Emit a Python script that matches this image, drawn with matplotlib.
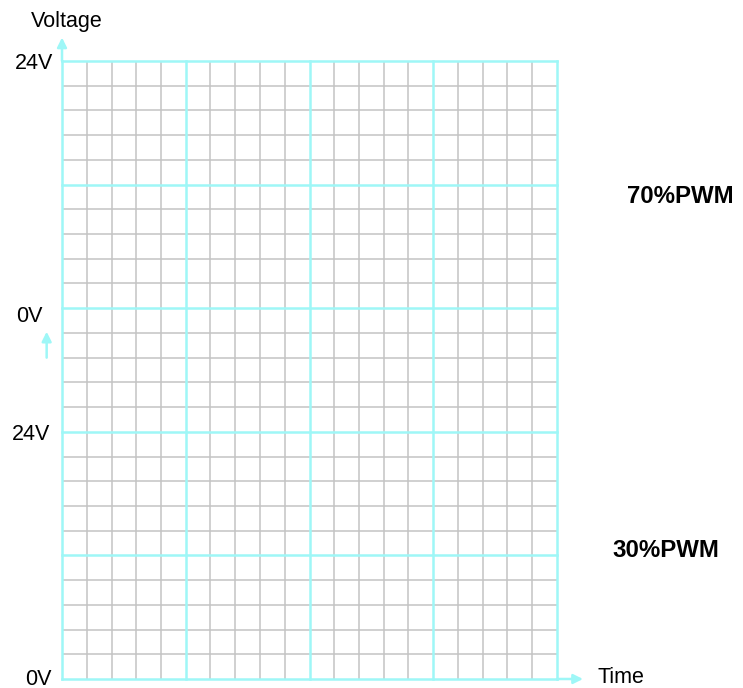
import numpy as np
import matplotlib.pyplot as plt

plt.rcParams['font.family'] = ['Liberation Sans', 'DejaVu Sans']

# grid: 20 columns, 25 rows, major line every 5 cells
n_cols = 20
n_rows = 25
major_step = 5

y_labels = ['24V', '0V', '24V', '0V']
y_label_x = [-0.36, -0.77, -0.48, -0.4]
y_label_base = [24.68, 14.44, 9.67, -0.24]
pwm_labels = ['70%PWM', '30%PWM']
pwm_x = [25.0, 24.4]
pwm_base = [19.26, 4.94]

cyan = '#9ef7f7'
gray = '#c3c3c3'

fig = plt.figure(figsize=(7.43, 6.88), dpi=100)
ax = fig.add_axes([62 / 743, 9 / 688, 495 / 743, 618 / 688])
ax.set_xlim(0, n_cols)
ax.set_ylim(0, n_rows)
ax.axis('off')

# minor grid
for x in range(n_cols + 1):
    if x % major_step:
        ax.plot([x, x], [0, n_rows], color=gray, lw=1.1, zorder=1)
for y in range(n_rows + 1):
    if y % major_step:
        ax.plot([0, n_cols], [y, y], color=gray, lw=1.1, zorder=1)
# major grid
for x in range(0, n_cols + 1, major_step):
    ax.plot([x, x], [0, n_rows], color=cyan, lw=1.8, zorder=2, clip_on=False)
for y in range(0, n_rows + 1, major_step):
    ax.plot([0, n_cols], [y, y], color=cyan, lw=1.8, zorder=2, clip_on=False)

# arrows
arrow = dict(arrowstyle='-|>', color=cyan, lw=1.8, mutation_scale=14, shrinkA=0, shrinkB=0)
ax.annotate('', xy=(0, 25.95), xytext=(0, 25), arrowprops=arrow, annotation_clip=False)
ax.annotate('', xy=(n_cols + 1.05, 0), xytext=(n_cols, 0), arrowprops=arrow, annotation_clip=False)
ax.annotate('', xy=(-0.62, 14.05), xytext=(-0.62, 13.0), arrowprops=arrow, annotation_clip=False)

# labels
for lab, x, y in zip(y_labels, y_label_x, y_label_base):
    ax.text(x, y, lab, ha='right', va='baseline', fontsize=15.5)
ax.text(0.2, 26.38, 'Voltage', ha='center', va='baseline', fontsize=15.5)
ax.text(21.62, -0.16, 'Time', ha='left', va='baseline', fontsize=15.5)
for lab, x, y in zip(pwm_labels, pwm_x, pwm_base):
    ax.text(x, y, lab, ha='center', va='baseline', fontsize=17.3, fontweight='bold')

fig.savefig('out.png', dpi=100)
